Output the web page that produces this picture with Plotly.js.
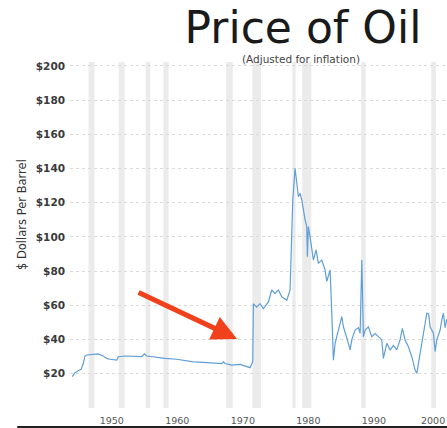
<!DOCTYPE html>
<html>
<head>
<meta charset="utf-8">
<script src="https://cdn.plot.ly/plotly-3.0.1.min.js"></script>
<style>html,body{margin:0;padding:0;background:#fff;}#chart{width:447px;height:428px;}</style>
</head>
<body>
<div id="chart"></div>
<script>
// Oil price (inflation adjusted)
const years = [
  1946.41, 1946.82, 1947.33, 1947.74, 1948.09, 1948.35, 1948.61, 1949.37, 1950.38, 1951.15,
  1951.66, 1952.17, 1953.19, 1953.44, 1954.46, 1957.01, 1957.40, 1957.77, 1959.04, 1960.56,
  1962.35, 1964.89, 1966.41, 1969.22, 1969.47, 1969.72, 1970.75, 1972.02, 1973.54, 1973.95,
  1974.05, 1974.56, 1975.07, 1975.57, 1976.34, 1976.85, 1977.36, 1977.86, 1978.38, 1979.15,
  1979.65, 1979.91, 1980.06, 1980.41, 1980.67, 1980.92, 1981.18, 1981.44, 1981.94, 1982.20,
  1982.29, 1982.44, 1982.70, 1982.96, 1983.21, 1983.62, 1983.97, 1984.49, 1984.99, 1985.25,
  1985.50, 1985.76, 1986.02, 1986.26, 1986.53, 1986.78, 1987.28, 1987.54, 1987.79, 1988.31,
  1988.55, 1988.81, 1989.07, 1989.57, 1990.08, 1990.34, 1990.60, 1990.84, 1991.10, 1991.60,
  1992.12, 1992.63, 1993.13, 1993.65, 1993.89, 1994.41, 1994.92, 1995.42, 1995.94, 1996.44,
  1996.79, 1997.20, 1997.71, 1998.23, 1998.73, 1998.99, 1999.24, 1999.76, 2000.15, 2000.52,
  2000.80, 2001.02, 2001.53, 2001.79, 2002.05, 2002.55, 2002.81, 2003.05, 2003.31, 2003.57
];
const prices = [
  18.3, 20.6, 21.8, 22.6, 26.0, 30.4, 31.0, 31.4, 31.6, 30.4,
  29.0, 28.5, 28.0, 30.0, 30.4, 30.0, 31.6, 30.4, 29.6, 29.0,
  28.5, 27.0, 26.7, 26.0, 27.0, 26.0, 25.1, 25.5, 23.6, 27.0,
  61.0, 59.0, 61.0, 58.0, 62.0, 69.0, 67.0, 69.0, 65.0, 63.0,
  69.0, 112.0, 121.6, 140.2, 131.0, 123.5, 125.5, 121.6, 110.0, 106.0,
  88.5, 106.0, 100.0, 92.4, 86.5, 92.4, 84.6, 86.5, 80.7, 74.0,
  77.0, 80.7, 55.0, 28.0, 38.0, 41.7, 49.5, 53.4, 47.5, 41.7,
  37.8, 34.0, 40.0, 45.6, 47.0, 43.7, 86.5, 41.7, 45.6, 47.5,
  41.7, 43.5, 41.7, 39.8, 29.0, 37.8, 34.0, 36.5, 34.0, 40.0,
  46.6, 39.8, 35.8, 30.0, 22.2, 20.3, 26.0, 37.8, 47.5, 55.4,
  55.0, 47.5, 43.7, 33.0, 40.0, 45.6, 51.5, 55.4, 47.0, 52.0
];
// Recession periods (start, end)
const recessionStarts = [1948.9, 1953.5, 1957.6, 1960.3, 1969.9, 1973.9, 1980.0, 1981.5, 1990.5, 2001.2];
const recessionEnds   = [1949.8, 1954.4, 1958.3, 1961.1, 1970.9, 1975.2, 1980.5, 1982.9, 1991.2, 2001.9];
const yTickValues = [0, 20, 40, 60, 80, 100, 120, 140, 160, 180, 200];
const yTickLabels = ['', '$20', '$40', '$60', '$80', '$100', '$120', '$140', '$160', '$180', '$200'];
const xTickValues = [1950, 1960, 1970, 1980, 1990, 2000];
const xTickLabels = ['1950', '1960', '1970', '1980', '1990', ''];
const lastXTickLabel = '2000';

const shapes = recessionStarts.map((s, i) => ({
  type: 'rect', xref: 'x', yref: 'paper', x0: s, x1: recessionEnds[i], y0: 0, y1: 1,
  fillcolor: '#ebebeb', line: {width: 0}, layer: 'below'
}));
shapes.push({type: 'line', xref: 'paper', yref: 'paper', x0: -0.14, x1: 1, y0: -0.055, y1: -0.055,
  line: {color: '#222', width: 2}});

const trace = {
  x: years, y: prices, type: 'scatter', mode: 'lines',
  line: {color: '#5f9fd8', width: 1.2}, hoverinfo: 'skip'
};

const layout = {
  width: 447, height: 428,
  margin: {l: 70, r: 0, t: 62, b: 20},
  paper_bgcolor: '#fff', plot_bgcolor: '#fff',
  showlegend: false,
  title: {
    text: 'Price of Oil', xref: 'container', yref: 'container',
    x: 303 / 447, xanchor: 'center', y: 1 - 28 / 428, yanchor: 'middle',
    font: {family: 'DejaVu Sans', size: 44, color: '#1a1a1a'}
  },
  xaxis: {
    range: [1946.06, 2003.6], showgrid: false, zeroline: false, showline: false,
    tickvals: xTickValues, ticktext: xTickLabels, ticks: '',
    ticklabelshift: 16, ticklabelstandoff: 5,
    tickfont: {family: 'DejaVu Sans', size: 9.5, color: '#555'}
  },
  yaxis: {
    range: [0, 202.3], showgrid: true, gridcolor: '#dadada', griddash: 'dot', gridwidth: 1,
    zeroline: false, showline: false, tickvals: yTickValues, ticktext: yTickLabels, ticks: '',
    ticklabelstandoff: 4,
    tickfont: {family: 'DejaVu Sans', size: 10.5, color: '#3a3a3a', weight: 'bold'}
  },
  shapes: shapes,
  annotations: [
    {text: '(Adjusted for inflation)', xref: 'paper', yref: 'paper',
     x: (301 - 70) / 377, y: (408 - 59) / 346, xanchor: 'center', yanchor: 'middle',
     showarrow: false, font: {family: 'DejaVu Sans', size: 10.5, color: '#444'}},
    {text: '$ Dollars Per Barrel', xref: 'paper', yref: 'paper', textangle: -90,
     x: (22 - 70) / 377, y: (408 - 215) / 346, xanchor: 'center', yanchor: 'middle',
     showarrow: false, font: {family: 'DejaVu Sans', size: 11.5, color: '#333'}},
    {text: lastXTickLabel, xref: 'paper', yref: 'paper', x: 1, y: (408 - 420) / 346,
     xanchor: 'right', yanchor: 'middle', showarrow: false,
     font: {family: 'DejaVu Sans', size: 9.5, color: '#555'}},
    {text: '', x: 1971.56, y: 40.4, xref: 'x', yref: 'y',
     showarrow: true, ax: -100, ay: -47, arrowcolor: '#f0401c', arrowwidth: 5,
     arrowhead: 2, arrowsize: 1, standoff: 0, startstandoff: 0}
  ]
};

Plotly.newPlot('chart', [trace], layout, {displayModeBar: false, staticPlot: true});
</script>
</body>
</html>
